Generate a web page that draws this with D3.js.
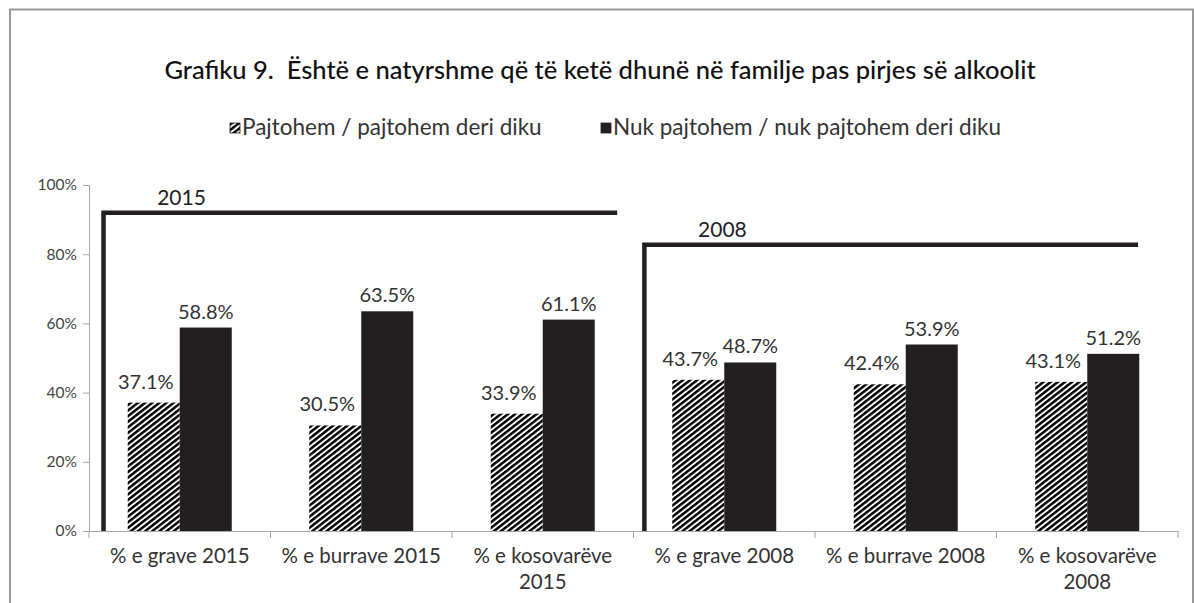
<!DOCTYPE html>
<html>
<head>
<meta charset="utf-8">
<script src="https://cdn.jsdelivr.net/npm/d3@7"></script>
<style>
	body { margin: 0; background: #fff; }
	svg text { font-family: Lato, "Open Sans", sans-serif; }
</style>
</head>
<body>
<svg id="chart" width="1194" height="603"></svg>
<script>
"use strict";

// Chart data
var categories = ['% e grave 2015', '% e burrave 2015', '% e kosovarëve 2015',
	'% e grave 2008', '% e burrave 2008', '% e kosovarëve 2008'];
var seriesNames = ['Pajtohem / pajtohem deri diku', 'Nuk pajtohem / nuk pajtohem deri diku'];
var agreeValues = [37.1, 30.5, 33.9, 43.7, 42.4, 43.1];
var disagreeValues = [58.8, 63.5, 61.1, 48.7, 53.9, 51.2];
var yTicks = [0, 20, 40, 60, 80, 100];
// Year brackets: [label, start category index, end category index, level in %]
var yearGroups = [['2015', 0.08, 2.91, 92], ['2008', 3.06, 5.78, 82.7]];

var svg = d3.select('#chart');
var plot = { left: 89, right: 1178, top: 185, bottom: 531 };

// Hatch pattern for the first series
var defs = svg.append('defs');
var pat = defs.append('pattern').attr('id', 'hatch').attr('patternUnits', 'userSpaceOnUse').
	attr('width', 4.4).attr('height', 4.4).attr('patternTransform', 'rotate(52)');
pat.append('rect').attr('width', 4.4).attr('height', 4.4).attr('fill', '#fff');
pat.append('rect').attr('width', 2.5).attr('height', 4.4).attr('fill', '#000');

// Outer frame
svg.append('rect').attr('x', 10).attr('y', 9.5).attr('width', 1183).attr('height', 620).
	attr('fill', 'none').attr('stroke', '#999').attr('stroke-width', 2);

// Title
svg.append('text').attr('x', 600).attr('y', 79).attr('text-anchor', 'middle').
	style('font-size', '25.5px').style('font-weight', 500).style('white-space', 'pre').attr('fill', '#111').
	text('Grafiku 9.  Është e natyrshme që të ketë dhunë në familje pas pirjes së alkoolit');

// Scales
var x = d3.scaleBand().domain(categories).range([plot.left, plot.right]);
var xIdx = d3.scaleLinear().domain([0, categories.length]).range([plot.left, plot.right]);
var y = d3.scaleLinear().domain([0, 100]).range([plot.bottom, plot.top]);
var barW = 52;

// Y axis
var yAxis = svg.append('g').attr('transform', 'translate(' + plot.left + ',0)').
	call(d3.axisLeft(y).tickValues(yTicks).tickSize(6).tickPadding(6).tickFormat(function(d) { return d + '%'; }));
yAxis.selectAll('line, path').attr('stroke', '#a6a6a6');
yAxis.selectAll('text').attr('fill', '#444').style('font-size', '15.5px');

// Bars
var groups = svg.append('g').selectAll('g').data(categories).join('g').
	attr('transform', function(d) { return 'translate(' + (x(d) + x.bandwidth() / 2) + ',0)'; });

groups.append('rect').attr('x', -barW).attr('width', barW).
	attr('y', function(d, i) { return y(agreeValues[i]); }).
	attr('height', function(d, i) { return y(0) - y(agreeValues[i]); }).
	attr('fill', 'url(#hatch)');
groups.append('rect').attr('x', 0).attr('width', barW).
	attr('y', function(d, i) { return y(disagreeValues[i]); }).
	attr('height', function(d, i) { return y(0) - y(disagreeValues[i]); }).
	attr('fill', '#231f20');

// Data labels
groups.append('text').attr('x', -barW / 2 - 8).
	attr('y', function(d, i) { return y(agreeValues[i]) - 14; }).
	attr('text-anchor', 'middle').attr('fill', '#333').style('font-size', '20px').
	text(function(d, i) { return agreeValues[i].toFixed(1) + '%'; });
groups.append('text').attr('x', barW / 2).
	attr('y', function(d, i) { return y(disagreeValues[i]) - 9; }).
	attr('text-anchor', 'middle').attr('fill', '#333').style('font-size', '20px').
	text(function(d, i) { return disagreeValues[i].toFixed(1) + '%'; });

// X axis
var xAxis = svg.append('g').attr('transform', 'translate(0,' + plot.bottom + ')').
	call(d3.axisBottom(x).tickSize(0).tickPadding(17));
xAxis.select('.domain').attr('stroke', '#a6a6a6');
xAxis.selectAll('text').attr('fill', '#333').style('font-size', '20.5px').call(textWrap, 172);
xAxis.selectAll('.sep').data(d3.range(categories.length + 1)).join('line').attr('class', 'sep').
	attr('x1', function(d) { return xIdx(d); }).attr('x2', function(d) { return xIdx(d); }).
	attr('y1', 0).attr('y2', 7).attr('stroke', '#a6a6a6');

// Year brackets
yearGroups.forEach(function(g) {
	var x0 = xIdx(g[1]), x1 = xIdx(g[2]), yy = y(g[3]);
	svg.append('path').attr('d', 'M' + x0 + ',' + y(0) + 'V' + yy + 'H' + x1).
		attr('fill', 'none').attr('stroke', '#231f20').attr('stroke-width', 4.5);
	svg.append('text').attr('x', x0 + 78).attr('y', yy - 8).attr('text-anchor', 'middle').
		attr('fill', '#222').style('font-size', '21px').text(g[0]);
});

// Legend
var legend = svg.append('g').attr('transform', 'translate(230,123)');
var lx = [0, 371];
seriesNames.forEach(function(name, i) {
	var item = legend.append('g').attr('transform', 'translate(' + lx[i] + ',0)');
	item.append('rect').attr('width', 10).attr('height', 10).
		attr('fill', i === 0 ? 'url(#hatch)' : '#231f20').attr('stroke', '#231f20').attr('stroke-width', 0.8);
	item.append('text').attr('x', 12).attr('y', 12).attr('fill', '#333').style('font-size', '22.5px').text(name);
});

// Wrap tick labels into lines no wider than width
function textWrap(text, width) {
	text.each(function() {
		var t = d3.select(this),
			words = t.text().split(/\s+/).reverse(),
			word, line = [], lineNumber = 0,
			yy = t.attr('y'),
			tspan = t.text(null).append('tspan').attr('x', 0).attr('y', yy).attr('dy', '0.71em');
		while (word = words.pop()) {
			line.push(word);
			tspan.text(line.join(' '));
			if (tspan.node().getComputedTextLength() > width && line.length > 1) {
				line.pop();
				tspan.text(line.join(' '));
				line = [word];
				tspan = t.append('tspan').attr('x', 0).attr('y', yy).
					attr('dy', (++lineNumber * 1.27 + 0.71) + 'em').text(word);
			}
		}
	});
}
</script>
</body>
</html>
